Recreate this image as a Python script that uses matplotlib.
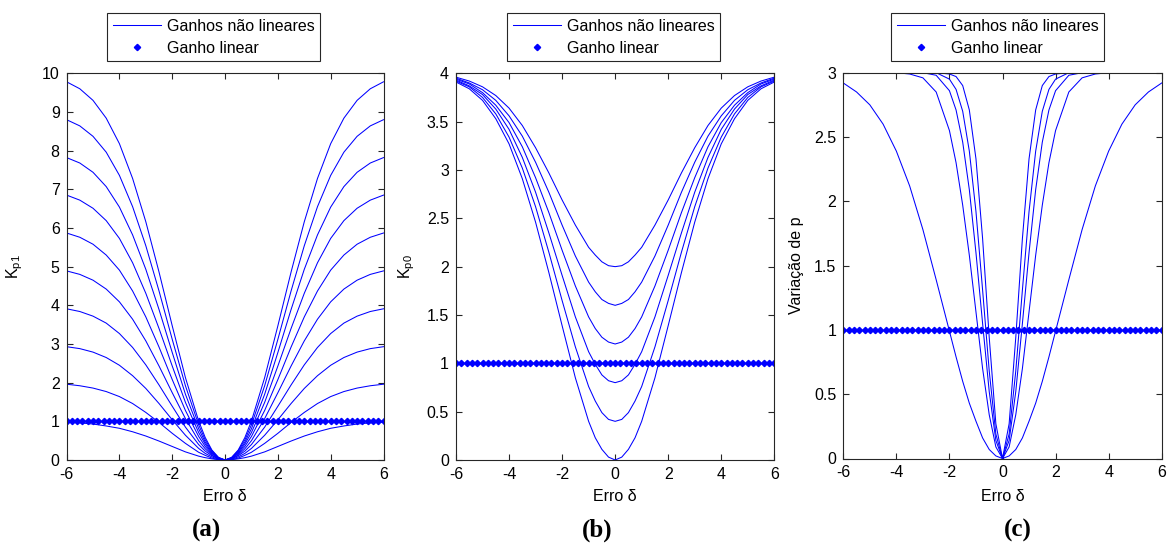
import numpy as np
import matplotlib
matplotlib.use("Agg")
import matplotlib.pyplot as plt


OUTPUT_FILE = "out.png"

# Half profiles (delta >= 0), the curves are symmetric around delta = 0
HALF_X_AB = [0, 0.25, 0.5, 0.75, 1, 1.5, 2, 2.5, 3, 3.5, 4, 4.5, 5, 5.5, 6]

# (a) K_p1 - ten nonlinear gains
KP1_CURVES = [
    [0, 0.07, 0.26, 0.58, 1.01, 2.13, 3.47, 4.86, 6.16, 7.28, 8.18, 8.84, 9.30, 9.60, 9.78],
    [0, 0.06, 0.24, 0.52, 0.91, 1.92, 3.12, 4.37, 5.54, 6.55, 7.36, 7.96, 8.37, 8.64, 8.80],
    [0, 0.05, 0.21, 0.46, 0.81, 1.70, 2.78, 3.89, 4.93, 5.82, 6.54, 7.07, 7.44, 7.68, 7.82],
    [0, 0.05, 0.18, 0.41, 0.71, 1.49, 2.43, 3.40, 4.31, 5.10, 5.73, 6.19, 6.51, 6.72, 6.85],
    [0, 0.04, 0.16, 0.35, 0.61, 1.28, 2.08, 2.92, 3.70, 4.37, 4.91, 5.30, 5.58, 5.76, 5.87],
    [0, 0.03, 0.13, 0.29, 0.50, 1.07, 1.74, 2.43, 3.08, 3.64, 4.09, 4.42, 4.65, 4.80, 4.89],
    [0, 0.03, 0.11, 0.23, 0.40, 0.85, 1.39, 1.94, 2.46, 2.91, 3.27, 3.54, 3.72, 3.84, 3.91],
    [0, 0.02, 0.08, 0.17, 0.30, 0.64, 1.04, 1.46, 1.85, 2.18, 2.45, 2.65, 2.79, 2.88, 2.93],
    [0, 0.01, 0.05, 0.12, 0.20, 0.43, 0.69, 0.97, 1.23, 1.46, 1.64, 1.77, 1.86, 1.92, 1.96],
    [0, 0.01, 0.03, 0.06, 0.10, 0.21, 0.35, 0.49, 0.62, 0.73, 0.82, 0.88, 0.93, 0.96, 0.98],
]

# (b) K_p0 - six nonlinear gains
KP0_CURVES = [
    [0.00, 0.03, 0.11, 0.23, 0.40, 0.85, 1.39, 1.94, 2.46, 2.91, 3.27, 3.53, 3.72, 3.84, 3.91],
    [0.40, 0.42, 0.49, 0.61, 0.76, 1.17, 1.65, 2.15, 2.62, 3.02, 3.34, 3.58, 3.75, 3.86, 3.92],
    [0.80, 0.82, 0.88, 0.99, 1.12, 1.48, 1.91, 2.35, 2.77, 3.13, 3.42, 3.63, 3.78, 3.87, 3.93],
    [1.20, 1.22, 1.27, 1.36, 1.48, 1.80, 2.17, 2.56, 2.92, 3.24, 3.49, 3.67, 3.80, 3.89, 3.94],
    [1.60, 1.62, 1.66, 1.74, 1.84, 2.11, 2.43, 2.77, 3.08, 3.35, 3.56, 3.72, 3.83, 3.90, 3.95],
    [2.00, 2.01, 2.05, 2.12, 2.20, 2.43, 2.69, 2.97, 3.23, 3.46, 3.64, 3.77, 3.86, 3.92, 3.96],
]

# (c) variation of p - five nonlinear gains
HALF_X_C = [0, 0.25, 0.5, 0.75, 1, 1.25, 1.5, 1.75, 2, 2.5, 3, 3.5, 4, 4.5, 5, 5.5, 6]
P_CURVES = [
    [0, 0.02, 0.07, 0.16, 0.29, 0.43, 0.60, 0.79, 0.99, 1.39, 1.78, 2.12, 2.39, 2.60, 2.75, 2.85, 2.92],
    [0, 0.09, 0.34, 0.70, 1.14, 1.58, 1.97, 2.30, 2.55, 2.85, 2.96, 2.99, 3.00, 3.00, 3.00, 3.00, 3.00],
    [0, 0.14, 0.52, 1.05, 1.60, 2.09, 2.46, 2.71, 2.86, 2.98, 3.00, 3.00, 3.00, 3.00, 3.00, 3.00, 3.00],
    [0, 0.19, 0.68, 1.31, 1.92, 2.39, 2.70, 2.87, 2.95, 3.00, 3.00, 3.00, 3.00, 3.00, 3.00, 3.00, 3.00],
    [0, 0.27, 0.94, 1.71, 2.33, 2.71, 2.90, 2.97, 2.99, 3.00, 3.00, 3.00, 3.00, 3.00, 3.00, 3.00, 3.00],
]

# Linear gain reference, sampled every 0.2
LINEAR_X = np.linspace(-6, 6, 61)
LINEAR_GAIN = 1.0

YLABELS = [r"$\mathrm{K_{p1}}$", r"$\mathrm{K_{p0}}$", "Variação de p"]
YLIMS = [(0, 10), (0, 4), (0, 3)]
YSTEPS = [1, 0.5, 0.5]
CAPTIONS = ["(a)", "(b)", "(c)"]
LEGEND_LABELS = ["Ganhos não lineares", "Ganho linear"]

BLUE = "#0000ff"
FONT = "Liberation Sans"
FS = 11.5

W, H = 1168, 543
# axes boxes in pixels: left, right, top, bottom
AX_BOXES = [(66.6, 383.5, 73.3, 460.0), (456.0, 774.3, 73.3, 460.0), (843.3, 1161.7, 72.7, 458.5)]
LEGEND_LEFT = [107, 507, 891]
CAPTION_X = [207, 597, 1018]
# right edge of the rotated y labels
YLABEL_X = [25, 417, 804]
XLABEL_TOP = 489


def mirror(half_x, half_y):
    # Build the full symmetric curve from its right half
    hx = np.asarray(half_x, dtype=float)
    hy = np.asarray(half_y, dtype=float)
    x = np.concatenate([-hx[:0:-1], hx])
    y = np.concatenate([hy[:0:-1], hy])
    return x, y


def setup_fonts():
    plt.rcParams["font.family"] = [FONT, "DejaVu Sans"]
    plt.rcParams["mathtext.fontset"] = "custom"
    plt.rcParams["mathtext.rm"] = FONT
    plt.rcParams["mathtext.it"] = FONT + ":italic"
    plt.rcParams["axes.unicode_minus"] = False


def style_axis(ax, i):
    ax.set_xlim(-6, 6)
    ax.set_ylim(*YLIMS[i])
    ax.set_xticks(np.arange(-6, 7, 2))
    ax.set_yticks(np.arange(YLIMS[i][0], YLIMS[i][1] + 1e-9, YSTEPS[i]))
    ax.set_yticklabels([f"{v:g}" for v in ax.get_yticks()])
    ax.tick_params(direction="in", top=True, right=True, length=4,
                   width=0.8, labelsize=FS, color="#262626", pad=5)
    for s in ax.spines.values():
        s.set_linewidth(0.8)
        s.set_color("#262626")

    left, right, top, bottom = AX_BOXES[i]
    ax.set_xlabel("Erro δ", fontsize=FS)
    ax.xaxis.set_label_coords(0.5, (bottom - XLABEL_TOP) / (bottom - top))
    ax.set_ylabel(YLABELS[i], fontsize=FS)
    ax.yaxis.set_label_coords((YLABEL_X[i] - left) / (right - left), 0.5)


def draw_panel(fig, i, half_x, curves):
    left, right, top, bottom = AX_BOXES[i]
    ax = fig.add_axes([left / W, 1 - bottom / H, (right - left) / W, (bottom - top) / H])

    line = None
    for c in curves:
        x, y = mirror(half_x, c)
        line, = ax.plot(x, y, color=BLUE, lw=0.75)

    dots, = ax.plot(LINEAR_X, np.full(len(LINEAR_X), LINEAR_GAIN), linestyle="none",
                    marker="D", markersize=3.2, color=BLUE)

    style_axis(ax, i)

    fig.legend([line, dots], LEGEND_LABELS, loc="upper left",
               bbox_to_anchor=(LEGEND_LEFT[i] / W, 1 - 13 / H),
               fontsize=FS, frameon=True, fancybox=False, framealpha=1,
               edgecolor="#262626", handlelength=3.0, handletextpad=0.4,
               numpoints=1, borderaxespad=0, borderpad=0.35, labelspacing=0.45)
    fig.legends[-1].get_frame().set_linewidth(0.8)

    fig.text(CAPTION_X[i] / W, 1 - 530 / H, CAPTIONS[i], ha="center", va="center",
             fontfamily="Liberation Serif", fontweight="bold", fontsize=18)
    return ax


def main():
    setup_fonts()
    fig = plt.figure(figsize=(W / 100, H / 100), dpi=100)

    draw_panel(fig, 0, HALF_X_AB, KP1_CURVES)
    draw_panel(fig, 1, HALF_X_AB, KP0_CURVES)
    draw_panel(fig, 2, HALF_X_C, P_CURVES)

    fig.savefig(OUTPUT_FILE, dpi=100)
    plt.close(fig)


if __name__ == "__main__":
    main()
